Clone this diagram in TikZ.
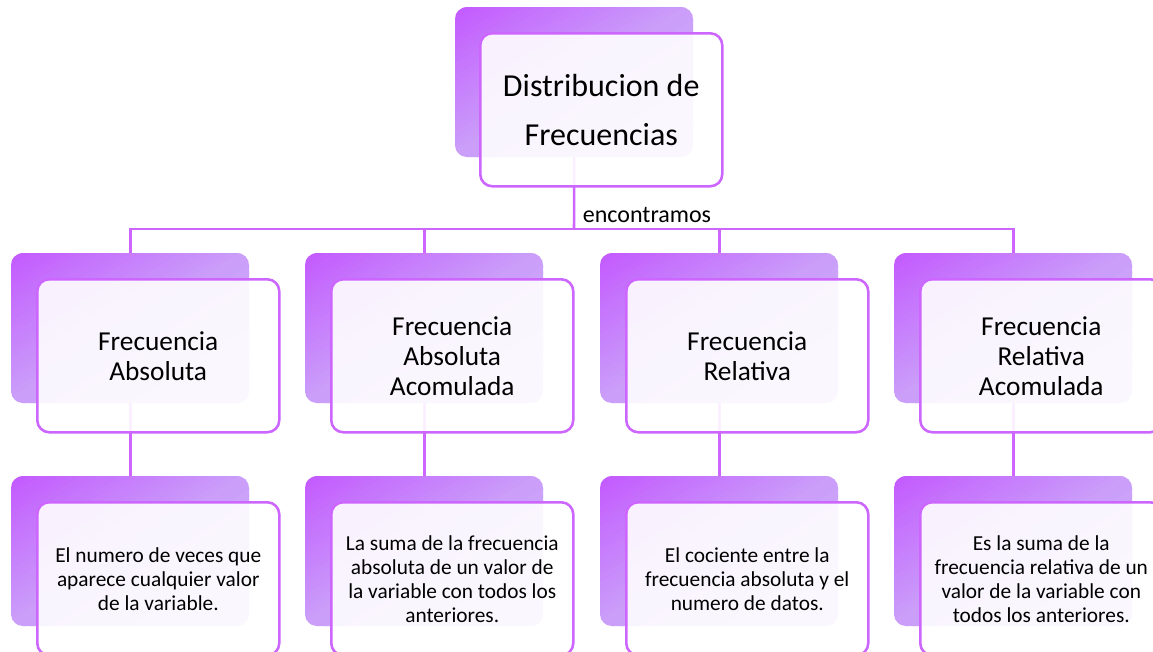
\documentclass[tikz,border=0pt]{standalone}
\usepackage{fontspec}
\setmainfont{Carlito}
\usetikzlibrary{backgrounds}
\definecolor{lila}{RGB}{204,102,255}
\definecolor{bdark}{RGB}{195,90,255}
\definecolor{bmid}{RGB}{202,158,249}
\definecolor{blight}{RGB}{212,190,251}
\newcommand\gradbox[2]{%
  \begin{scope}
    \clip[rounded corners=9pt] (#1,#2) rectangle ++(238,150);
    \foreach \i in {0,...,47} {%
      \pgfmathsetmacro\ca{\i/24}%
      \pgfmathsetmacro\cb{(\i+1.4)/24}%
      \ifnum\i<24
        \pgfmathsetmacro\pa{100-100*\i/23}%
        \fill[bdark!\pa!bmid] ({#1+238*\ca},#2) -- ({#1+238*\cb},#2) -- ({#1+238*\cb-476},{#2+300}) -- ({#1+238*\ca-476},{#2+300}) -- cycle;
      \else
        \pgfmathsetmacro\pa{100-100*(\i-24)/23}%
        \fill[bmid!\pa!blight] ({#1+238*\ca},#2) -- ({#1+238*\cb},#2) -- ({#1+238*\cb-476},{#2+300}) -- ({#1+238*\ca-476},{#2+300}) -- cycle;
      \fi
    }
  \end{scope}}
\begin{document}
\begin{tikzpicture}[x=0.75pt,y=-0.75pt,
  backbox/.style={inner sep=0pt, minimum width=178.5pt,
    minimum height=112.5pt, anchor=north west},
  frontbox/.style={draw=lila, line width=1.9pt, fill=white, fill opacity=0.9,
    text opacity=1, rounded corners=9pt, minimum width=181.5pt,
    minimum height=114.75pt, inner sep=0pt, anchor=north west, align=center},
  conn/.style={draw=lila, line width=1.9pt},
  ftop/.style={font=\fontsize{24}{36.75}\selectfont},
  fmid/.style={font=\fontsize{20.5}{22.5}\selectfont},
  fbot/.style={font=\fontsize{16}{18}\selectfont}]
\useasboundingbox (0,0) rectangle (1153,651);
% back boxes (named) with diagonal gradient
\node[backbox] (tb) at (455,7) {};
\node[backbox] (b1) at (11,253) {};
\node[backbox] (b2) at (305,253) {};
\node[backbox] (b3) at (600,253) {};
\node[backbox] (b4) at (894,253) {};
\node[backbox] (c1) at (11,476) {};
\node[backbox] (c2) at (305,476) {};
\node[backbox] (c3) at (600,476) {};
\node[backbox] (c4) at (894,476) {};
\gradbox{455}{7}
\gradbox{11}{253}\gradbox{305}{253}\gradbox{600}{253}\gradbox{894}{253}
\gradbox{11}{476}\gradbox{305}{476}\gradbox{600}{476}\gradbox{894}{476}
% front boxes
\node[frontbox, ftop] (tf) at (479,32) {Distribucion de\\Frecuencias};
\node[frontbox, fmid] (f1) at (36,278) {Frecuencia\\Absoluta};
\node[frontbox, fmid] (f2) at (330,278) {Frecuencia\\Absoluta\\Acomulada};
\node[frontbox, fmid] (f3) at (625,278) {Frecuencia\\Relativa};
\node[frontbox, fmid] (f4) at (919,278) {Frecuencia\\Relativa\\Acomulada};
\node[frontbox, fbot] (g1) at (36,501) {El numero de veces que\\aparece cualquier valor\\de la variable.};
\node[frontbox, fbot] (g2) at (330,501) {La suma de la frecuencia\\absoluta de un valor de\\la variable con todos los\\anteriores.};
\node[frontbox, fbot] (g3) at (625,501) {El cociente entre la\\frecuencia absoluta y el\\numero de datos.};
\node[frontbox, fbot] (g4) at (919,501) {Es la suma de la\\frecuencia relativa de un\\valor de la variable con\\todos los anteriores.};
% label
\coordinate (bus) at (574,229);
\node[font=\fontsize{18}{20}\selectfont] (lab) at (647,215) {encontramos};
\begin{scope}[on background layer]
\draw[conn] (tb.center) -- (bus);
\draw[conn] (b1.center) |- (bus);
\draw[conn] (b2.center) |- (bus);
\draw[conn] (b3.center) |- (bus);
\draw[conn] (b4.center) |- (bus);
\draw[conn] (b1.center) -- (c1.center);
\draw[conn] (b2.center) -- (c2.center);
\draw[conn] (b3.center) -- (c3.center);
\draw[conn] (b4.center) -- (c4.center);
\end{scope}
\end{tikzpicture}
\end{document}
